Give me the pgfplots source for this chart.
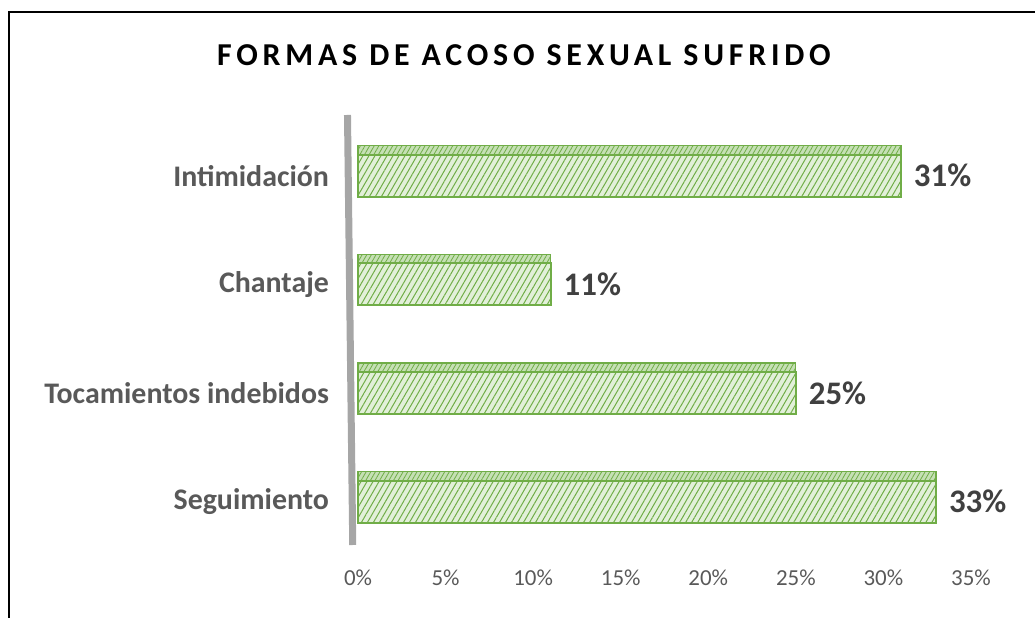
\documentclass[border=0pt]{standalone}
\usepackage{pgfplots}
\pgfplotsset{compat=1.18}
\usepackage{fontspec}
\setmainfont{Carlito}
\newfontfamily\titlefont[LetterSpace=15]{Carlito}
\usetikzlibrary{patterns.meta}
\definecolor{barfill}{HTML}{E2F0D9}
\definecolor{bargreen}{HTML}{70AD47}
\definecolor{topfill}{HTML}{C5E0B4}
\definecolor{wallgray}{HTML}{A6A6A6}
\definecolor{labgray}{HTML}{595959}
\definecolor{valgray}{HTML}{404040}
\pgfplotstableread{
val pos
33 0
25 1
11 2
31 3
}\datatab
\begin{document}
\begin{tikzpicture}
\useasboundingbox (0,0) rectangle (517.5bp,309bp);
\draw[line width=1bp] (4.5bp,0) -- (4.5bp,303bp) -- (517.5bp,303bp);
\node[font=\titlefont\bfseries\fontsize{16}{19}\selectfont, text=black] at (262bp,281.5bp) {FORMAS DE ACOSO SEXUAL SUFRIDO};
\begin{axis}[at={(179bp,36.5bp)}, anchor=south west, scale only axis,
  width=306.5bp, height=215bp,
  xmin=0, xmax=35, ymin=-0.4, ymax=3.56,
  clip=false,
  axis line style={draw=none}, major tick length=0pt,
  xtick={0,5,...,35},
  xticklabel={\pgfmathprintnumber{\tick}\%},
  /pgf/number format/assume math mode=true,
  xticklabel style={font=\fontsize{11.5}{13}\selectfont, text=labgray, yshift=-9bp},
  ytick={0,1,2,3},
  yticklabels={Seguimiento, Tocamientos indebidos, Chantaje, Intimidación},
  yticklabel style={font=\bfseries\fontsize{15}{18}\selectfont, text=labgray, xshift=-11bp},
]
% back wall
\addplot[wallgray, line width=3.5bp, sharp plot, no markers, forget plot]
  coordinates {(-0.6,3.56) (-0.3,-0.4)};
% top faces
\addplot[xbar, fill=topfill, draw=bargreen, line width=0.6bp, bar width=4.5bp, bar shift=12.75bp,
  postaction={pattern={Lines[angle=60,distance=2bp,line width=0.4bp]}, pattern color=bargreen}]
  table[x=val, y=pos] {\datatab};
% front faces
\addplot[xbar, fill=barfill, draw=bargreen, line width=1bp, bar width=21bp, bar shift=0pt,
  postaction={pattern={Lines[angle=60,distance=2.6bp,line width=0.5bp]}, pattern color=bargreen}]
  table[x=val, y=pos] {\datatab};
% value labels
\addplot[xbar, draw=none, fill=none, bar width=21bp, bar shift=0pt,
  point meta=x,
  nodes near coords={\pgfmathprintnumber{\pgfplotspointmeta}\%},
  nodes near coords align={horizontal},
  every node near coord/.append style={font=\bfseries\fontsize{16.5}{19}\selectfont, text=valgray, xshift=3bp}]
  table[x=val, y=pos] {\datatab};
\end{axis}
\end{tikzpicture}
\end{document}
